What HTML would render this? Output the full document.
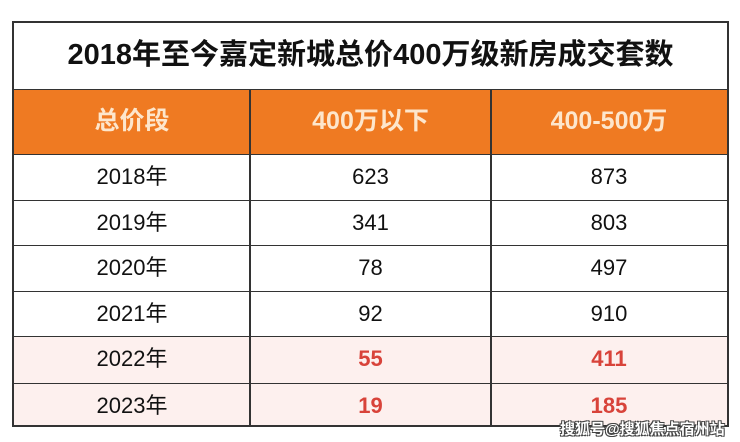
<!DOCTYPE html>
<html><head><meta charset="utf-8"><style>
body{margin:0;width:740px;height:442px;background:#fff;position:relative;overflow:hidden;font-family:"Liberation Sans","Noto Sans CJK SC",sans-serif}
.t{position:absolute;left:12px;top:21px;width:713px;height:402px;border:2px solid #333;box-sizing:content-box}
.title{position:absolute;left:0;top:0;width:713px;height:67px;line-height:64px;text-align:center;font-size:29px;font-weight:bold;color:#111;border-bottom:1.5px solid #333;box-sizing:border-box}
.hd{position:absolute;left:0;top:67px;width:713px;height:64px;background:#ef7a22}
.hd div{position:absolute;top:0;height:64px;line-height:62px;text-align:center;font-size:25px;font-weight:bold;color:#fde6cc}
.r{position:absolute;left:0;width:713px;height:45.5px;border-top:1.5px solid #333;box-sizing:border-box}
.r div{position:absolute;top:0;height:44px;line-height:44px;text-align:center;font-size:22px;color:#111}
.p{background:#fdf0ee}.p div.v{color:#d8433a;font-weight:bold}
.c1{left:0;width:236px}.c2{left:236px;width:241px}.c3{left:477px;width:236px}
.vl{position:absolute;top:67px;width:1.5px;height:335px;background:#333}
.wm{position:absolute;left:560px;top:418px;font-size:15px;font-weight:bold;white-space:nowrap;color:#fff;text-shadow:-1px -1px 0 #444,1px -1px 0 #444,-1px 1px 0 #444,1px 1px 0 #444}
</style></head><body>
<div class="t">
<div class="title">2018年至今嘉定新城总价400万级新房成交套数</div>
<div class="hd"><div class="c1">总价段</div><div class="c2">400万以下</div><div class="c3">400-500万</div></div>
<div class="r" style="top:131px"><div class="c1">2018年</div><div class="c2">623</div><div class="c3">873</div></div>
<div class="r" style="top:176.5px"><div class="c1">2019年</div><div class="c2">341</div><div class="c3">803</div></div>
<div class="r" style="top:222px"><div class="c1">2020年</div><div class="c2">78</div><div class="c3">497</div></div>
<div class="r" style="top:267.5px"><div class="c1">2021年</div><div class="c2">92</div><div class="c3">910</div></div>
<div class="r p" style="top:313px;height:47px"><div class="c1">2022年</div><div class="c2 v">55</div><div class="c3 v">411</div></div>
<div class="r p" style="top:360px;height:42px"><div class="c1">2023年</div><div class="c2 v">19</div><div class="c3 v">185</div></div>
<div class="vl" style="left:235px"></div><div class="vl" style="left:476px"></div>
</div>
<div class="wm">搜狐号@搜狐焦点宿州站</div>
</body></html>
